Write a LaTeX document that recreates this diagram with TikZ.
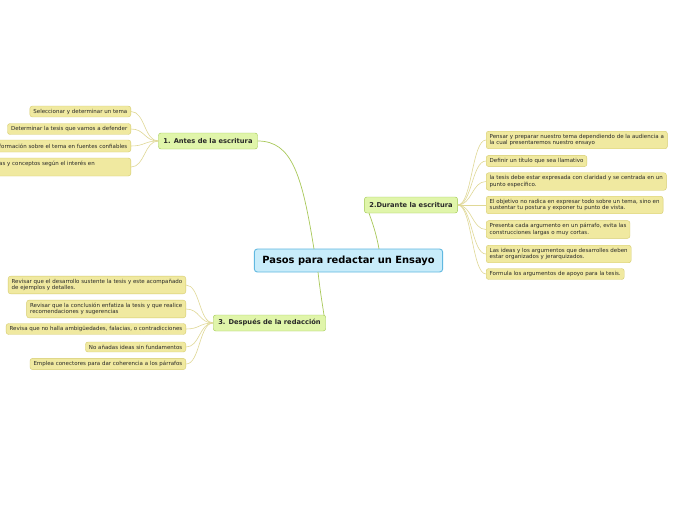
\documentclass[tikz,border=0pt]{standalone}
\usepackage{fontspec}
\setmainfont{DejaVu Sans}
\usetikzlibrary{calc}
\definecolor{leaffill}{RGB}{240,233,160}
\definecolor{leafdraw}{RGB}{214,204,110}
\definecolor{topicfill}{RGB}{224,245,170}
\definecolor{topicdraw}{RGB}{160,200,80}
\definecolor{centfill}{RGB}{200,236,250}
\definecolor{centdraw}{RGB}{96,184,224}
\definecolor{mainline}{RGB}{168,200,88}
\definecolor{leafline}{RGB}{224,216,150}
\definecolor{textc}{RGB}{40,40,40}
\tikzset{
  leaf/.style={draw=leafdraw, fill=leaffill, rounded corners=2.5pt, font=\fontsize{5.5}{6.6}\selectfont, text=textc, inner xsep=3.5pt, inner ysep=2.8pt, align=left},
  leaftext/.style={font=\fontsize{5.5}{6.6}\selectfont, text=textc, inner sep=0pt},
  topic/.style={draw=topicdraw, fill=topicfill, rounded corners=2.5pt, font=\bfseries\fontsize{6.7}{8}\selectfont, text=textc, inner xsep=5pt, minimum height=16pt},
  central/.style={draw=centdraw, fill=centfill, line width=0.9pt, rounded corners=3pt, font=\bfseries\fontsize{9.9}{12}\selectfont, text=black, inner xsep=8pt, minimum height=23pt},
  mline/.style={draw=mainline, line width=0.7pt},
  lline/.style={draw=leafline, line width=0.6pt}
}
\begin{document}
\begin{tikzpicture}[x=1pt,y=-1pt]
\clip (0,0) rectangle (696,520);
\fill[white] (0,0) rectangle (696,520);

% central and topics
\node[central] (c) at (348.5,260.5) {Pasos para redactar un Ensayo};
\node[topic] (t1) at (208,141) {1. Antes de la escritura};
\node[topic] (t2) at (411,205) {2.Durante la escritura};
\node[topic] (t3) at (269.5,323) {3. Después de la redacción};

\coordinate (c1) at (314,249);
\coordinate (c2) at (379,249);
\coordinate (c3) at (318,272);
\coordinate (e2) at (369,213);
\coordinate (e3) at (324,315);

\draw[mline] (c1) .. controls (302,175) and (292,141) .. (t1.east);
\draw[mline] (c2) .. controls (376,232) and (372,222) .. (e2);
\draw[mline] (c3) .. controls (320,290) and (322,302) .. (e3);

% leaves of topic 1
\node[leaf, anchor=east] (l1) at (131,111.5) {Seleccionar y determinar un tema};
\node[leaf, anchor=east] (l2) at (131,129) {Determinar la tesis que vamos a defender};
\node[leaf, anchor=east, minimum width=180pt, minimum height=12pt] (l3) at (131,146) {};
\node[leaftext, anchor=east] (l3t) at (127.5,146) {formación sobre el tema en fuentes confiables};
\node[leaf, anchor=east, minimum width=180pt, minimum height=18pt] (l4) at (131,167) {};
\node[leaftext, anchor=base west] (l4t) at (-1,165) {as y conceptos según el interés en};

\foreach \n in {l1,l2,l3,l4}
  \draw[lline] (t1.west) .. controls +(-14,0) and +(14,0) .. (\n.east);

% leaves of topic 2
\node[leaf, anchor=west] (r1) at (486,140) {Pensar y preparar nuestro tema dependiendo de la audiencia a\\la cual presentaremos nuestro ensayo};
\node[leaf, anchor=west] (r2) at (486,161) {Definir un título que sea llamativo};
\node[leaf, anchor=west] (r3) at (486,181.5) {la tesis debe estar expresada con claridad y se centrada en un\\punto específico.};
\node[leaf, anchor=west] (r4) at (486,205) {El objetivo no radica en expresar todo sobre un tema, sino en\\sustentar tu postura y exponer tu punto de vista.};
\node[leaf, anchor=west] (r5) at (486,229.5) {Presenta cada argumento en un párrafo, evita las\\construcciones largas o muy cortas.};
\node[leaf, anchor=west] (r6) at (486,254) {Las ideas y los argumentos que desarrolles deben\\estar organizados y jerarquizados.};
\node[leaf, anchor=west] (r7) at (486,274) {Formula los argumentos de apoyo para la tesis.};

\foreach \n in {r1,r2,r3,r4,r5,r6,r7}
  \draw[lline] (t2.east) .. controls +(14,0) and +(-14,0) .. (\n.west);

% leaves of topic 3
\node[leaf, anchor=east] (b1) at (186,285) {Revisar que el desarrollo sustente la tesis y este acompañado\\de ejemplos y detalles.};
\node[leaf, anchor=east] (b2) at (186,309) {Revisar que la conclusión enfatiza la tesis y que realice\\recomendaciones y sugerencias};
\node[leaf, anchor=east] (b3) at (186,329) {Revisa que no halla ambigüedades, falacias, o contradicciones};
\node[leaf, anchor=east] (b4) at (186,347) {No añadas ideas sin fundamentos};
\node[leaf, anchor=east] (b5) at (186,364) {Emplea conectores para dar coherencia a los párrafos};

\foreach \n in {b1,b2,b3,b4,b5}
  \draw[lline] (t3.west) .. controls +(-14,0) and +(14,0) .. (\n.east);
\end{tikzpicture}
\end{document}
